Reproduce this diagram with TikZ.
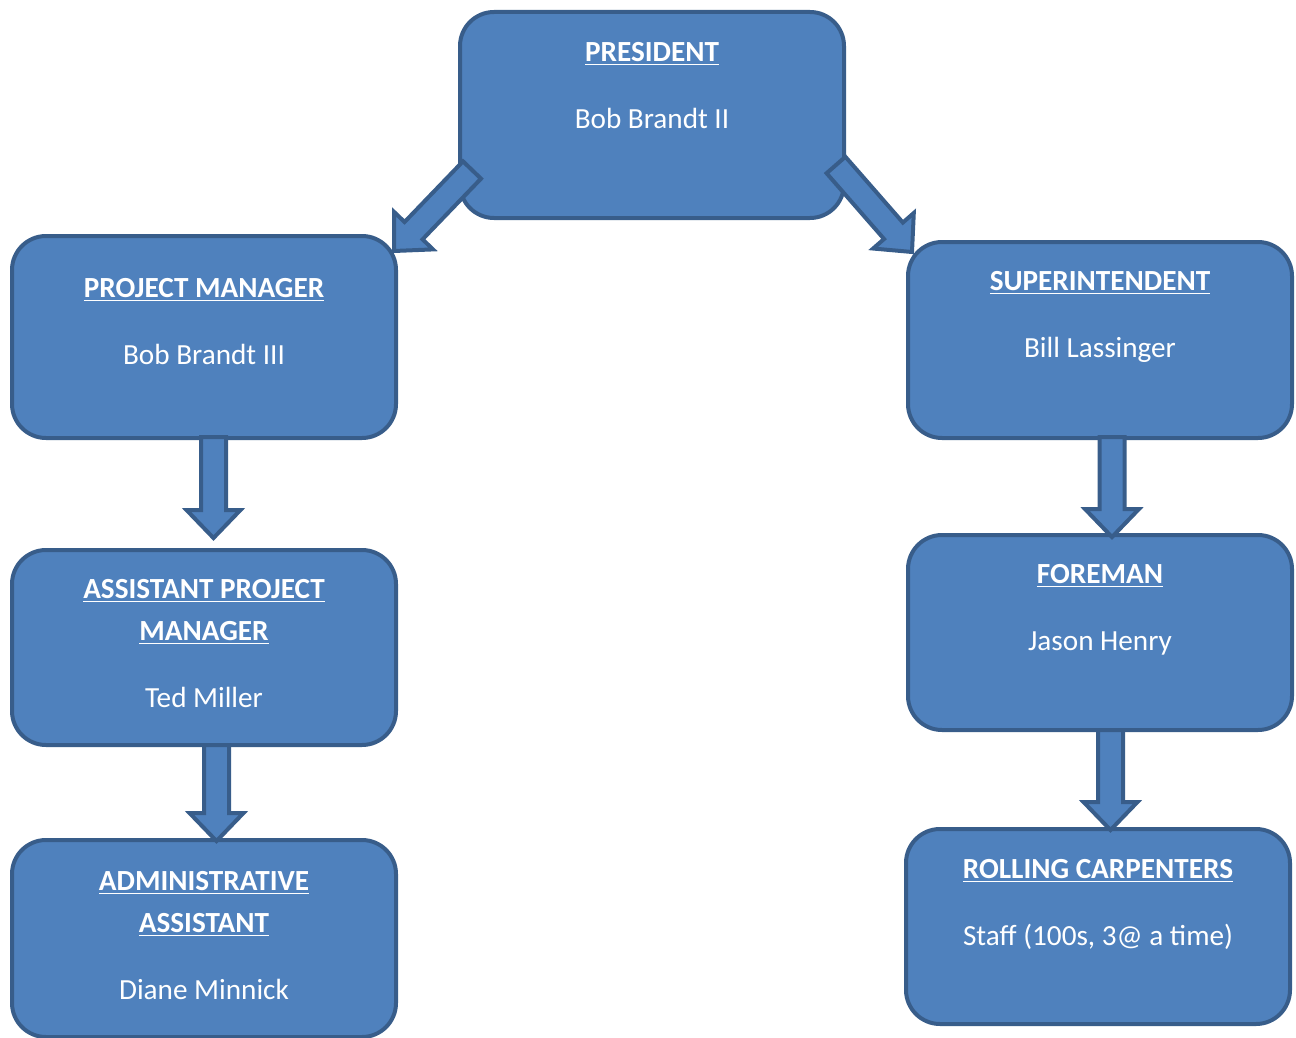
\documentclass[tikz,border=0pt]{standalone}
\usepackage{fontspec}
\setmainfont{Carlito}
\usetikzlibrary{calc}
\definecolor{boxfill}{HTML}{4F81BD}
\definecolor{boxline}{HTML}{385D8A}
\tikzset{
  orgbox/.style={rectangle, rounded corners=17pt, draw=boxline, fill=boxfill,
    line width=2pt, minimum width=192pt, inner sep=0pt, outer sep=0pt},
  boxtext/.style={anchor=north, inner sep=0pt, align=center, text=white,
    font=\fontsize{14.6}{21}\selectfont},
  blockarrow/.style={draw=boxline, fill=boxfill, line width=2pt,
    to path={let \p1=(\tikztostart), \p2=(\tikztotarget),
      \n1={atan2(\y2-\y1,\x2-\x1)}, \n2={veclen(\x2-\x1,\y2-\y1)-14} in
      ([shift={(\p1)},rotate=\n1]0pt,6.25pt)
      -- ([shift={(\p1)},rotate=\n1]\n2,6.25pt)
      -- ([shift={(\p1)},rotate=\n1]\n2,13.5pt)
      -- (\p2)
      -- ([shift={(\p1)},rotate=\n1]\n2,-13.5pt)
      -- ([shift={(\p1)},rotate=\n1]\n2,-6.25pt)
      -- ([shift={(\p1)},rotate=\n1]0pt,-6.25pt) -- cycle}}
}
\newcommand{\boxtitle}[1]{\underline{\textbf{#1}}}
\begin{document}
\begin{tikzpicture}[x=0.5pt,y=-0.5pt]
\useasboundingbox (0,0) rectangle (1296,1038);
% boxes
\node[orgbox, minimum height=103pt] (pres) at (652,115) {};
\node[orgbox, minimum height=101pt] (pm) at (204,337) {};
\node[orgbox, minimum height=98pt] (sup) at (1100,340) {};
\node[orgbox, minimum height=97.5pt] (apm) at (204,647.5) {};
\node[orgbox, minimum height=97.5pt] (fore) at (1100,632.5) {};
\node[orgbox, minimum height=97.5pt] (roll) at (1098,926.5) {};
\node[orgbox, minimum height=98.5pt] (admin) at (204,938.5) {};
% arrow ends
\coordinate (pres-l) at ($(pres.south west)+(12,-48)$);
\coordinate (pres-r) at ($(pres.south east)+(-8,-53)$);
\coordinate (pm-in) at ($(pm.north east)+(-2,15)$);
\coordinate (sup-in) at ($(sup.north west)+(4,10)$);
\coordinate (pm-out) at ($(pm.south)+(9.5,-1)$);
\coordinate (apm-in) at ($(apm.north)+(9.5,-12)$);
\coordinate (apm-out) at ($(apm.south)+(12.5,0)$);
\coordinate (admin-in) at ($(admin.north)+(12.5,1)$);
\coordinate (sup-out) at ($(sup.south)+(12,-1)$);
\coordinate (fore-in) at ($(fore.north)+(12,2)$);
\coordinate (fore-out) at ($(fore.south)+(10.5,0)$);
\coordinate (roll-in) at ($(roll.north)+(12.5,1)$);
% arrows
\foreach \a/\b in {pres-l/pm-in, pres-r/sup-in, pm-out/apm-in, apm-out/admin-in, sup-out/fore-in, fore-out/roll-in}
  \draw[blockarrow] (\a) to (\b);
% texts
\node[boxtext] (pres-t) at ($(pres.north)+(0,30)$) {\boxtitle{PRESIDENT}\\[12.5pt]Bob Brandt II};
\node[boxtext] (pm-t) at ($(pm.north)+(0,42)$) {\boxtitle{PROJECT MANAGER}\\[12.5pt]Bob Brandt III};
\node[boxtext] (sup-t) at ($(sup.north)+(0,29)$) {\boxtitle{SUPERINTENDENT}\\[12.5pt]Bill Lassinger};
\node[boxtext] (apm-t) at ($(apm.north)+(0,29)$) {\boxtitle{ASSISTANT PROJECT}\\\boxtitle{MANAGER}\\[12.5pt]Ted Miller};
\node[boxtext] (fore-t) at ($(fore.north)+(0,29)$) {\boxtitle{FOREMAN}\\[12.5pt]Jason Henry};
\node[boxtext] (roll-t) at ($(roll.north)+(0,30)$) {\boxtitle{ROLLING CARPENTERS}\\[12.5pt]Staff (100s, 3@ a time)};
\node[boxtext] (admin-t) at ($(admin.north)+(0,31)$) {\boxtitle{ADMINISTRATIVE}\\\boxtitle{ASSISTANT}\\[12.5pt]Diane Minnick};
\end{tikzpicture}
\end{document}
